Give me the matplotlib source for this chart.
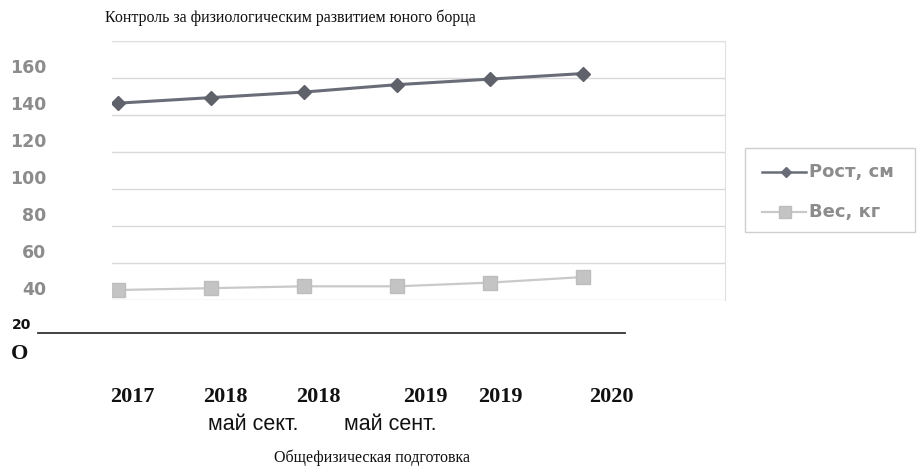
import matplotlib.pyplot as plt
from matplotlib.lines import Line2D

# data
periods = ["2017", "2018 май", "2018 сект.", "2019 май", "2019 сент.", "2020"]
height_cm = [141, 144, 147, 151, 154, 157]
weight_kg = [40, 41, 42, 42, 44, 47]
y_tick_values = [40, 60, 80, 100, 120, 140, 160]
year_labels = ["2017", "2018", "2018", "2019", "2019", "2020"]
month_labels = ["май сект.", "май сент."]

title = "Контроль за физиологическим развитием юного борца"
subtitle = "Общефизическая подготовка"

W, H = 923, 476
fig = plt.figure(figsize=(W / 100, H / 100), dpi=100)
fig.patch.set_facecolor("white")


def fx(px):
    return px / W


def fy(py):
    return 1 - py / H


# plot area (light scanned grid)
ax = fig.add_axes([fx(112), fy(300), fx(725) - fx(112), fy(41) - fy(300)])
ax.set_xlim(-0.065, 6.527)
ax.set_ylim(34.6, 174.6)
grid_vals = [v - 5.4 for v in y_tick_values] + [174.6]
for g in grid_vals:
    ax.axhline(g, color="#d9d9d9", lw=1.0, zorder=0)
for side in ["left", "bottom"]:
    ax.spines[side].set_visible(False)
for side in ["top", "right"]:
    ax.spines[side].set_color("#e0e0e0")
ax.set_xticks([])
ax.set_yticks([])

x = list(range(len(periods)))
ax.plot(x, height_cm, color="#6a6d78", lw=2.2, marker="D", markersize=7,
        markerfacecolor="#5f626b", markeredgecolor="#5f626b", zorder=3)
ax.plot(x, weight_kg, color="#c9c9c9", lw=1.6, marker="s", markersize=10,
        markerfacecolor="#c4c4c4", markeredgecolor="#bdbdbd", zorder=3)

# y labels (gray, slightly offset from the grid as in the scan)
for v in y_tick_values:
    fig.text(fx(46), fy(68 + (160 - v) * 1.85), str(v), ha="right", va="center",
             fontsize=12.5, color="#8c8c8c", fontweight="bold", family="DejaVu Sans")

# baseline with "20" and "O"
fig.add_artist(Line2D([fx(38), fx(625)], [fy(333), fy(333)], color="#333333", lw=1.3))
fig.text(fx(12), fy(325), "20", ha="left", va="center", fontsize=10,
         fontweight="bold", color="#111111", family="DejaVu Sans")
fig.text(fx(11), fy(354), "О", ha="left", va="center", fontsize=16,
         fontweight="bold", color="#111111", family="Liberation Serif")

# category labels
year_x = [132, 225, 318, 425, 500, 611]
for xx, lab in zip(year_x, year_labels):
    fig.text(fx(xx), fy(397), lab, ha="center", va="center", fontsize=16,
             fontweight="bold", color="#111111", family="Liberation Serif")
for xx, lab in zip([253, 390], month_labels):
    fig.text(fx(xx), fy(424), lab, ha="center", va="center", fontsize=15.5,
             color="#111111", family="Liberation Sans")

# titles
fig.text(fx(105), fy(18), title, ha="left", va="center", fontsize=11.5,
         color="#111111", family="Liberation Serif")
fig.text(fx(372), fy(458), subtitle, ha="center", va="center", fontsize=11.5,
         color="#111111", family="Liberation Serif")

# legend box
fig.add_artist(plt.Rectangle((fx(745), fy(232)), fx(915) - fx(745), fy(148) - fy(232),
                             fill=False, edgecolor="#cfcfcf", lw=1.0))
fig.add_artist(Line2D([fx(762), fx(806)], [fy(172), fy(172)], color="#6a6d78", lw=1.8))
fig.add_artist(Line2D([fx(786)], [fy(172)], marker="D", markersize=5, lw=0,
                      markerfacecolor="#6a6d78", markeredgecolor="#6a6d78"))
fig.add_artist(Line2D([fx(762), fx(806)], [fy(212), fy(212)], color="#c9c9c9", lw=1.6))
fig.add_artist(Line2D([fx(785)], [fy(212)], marker="s", markersize=8,
                      markerfacecolor="#c4c4c4", markeredgecolor="#bdbdbd", lw=0))
fig.text(fx(809), fy(172), "Рост, см", ha="left", va="center", fontsize=13,
         color="#8c8c8c", fontweight="bold", family="DejaVu Sans")
fig.text(fx(809), fy(212), "Вес, кг", ha="left", va="center", fontsize=13,
         color="#8c8c8c", fontweight="bold", family="DejaVu Sans")

fig.savefig("out.png", dpi=100)
